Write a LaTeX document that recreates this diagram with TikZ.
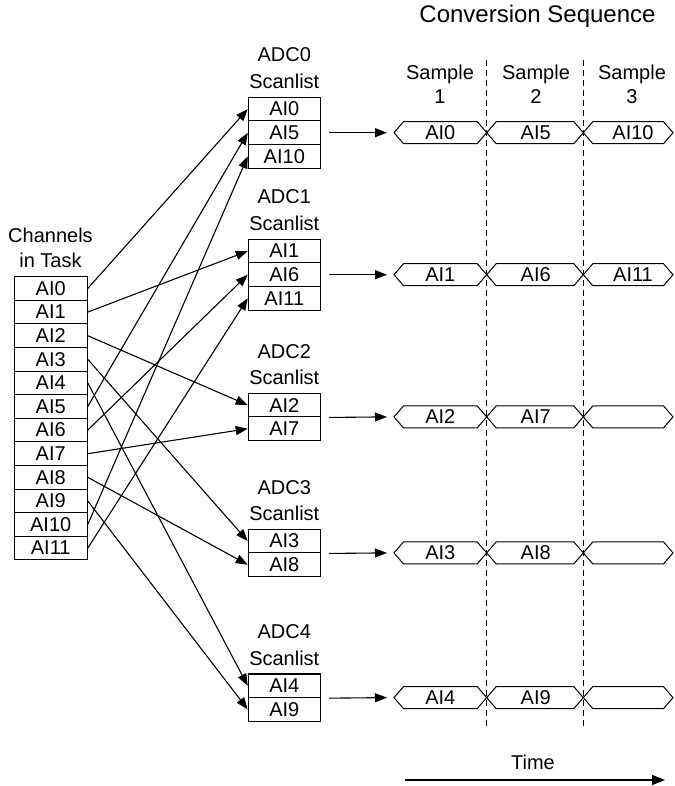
\documentclass[tikz,border=0pt]{standalone}
\usepackage{fontspec}
\setmainfont{Liberation Sans}
\usetikzlibrary{arrows.meta}

% one slot of the conversion sequence: a flat hexagon with its label
% #1 name, #2 left point x, #3 right point x, #4 centre y, #5 label x, #6 label
\newcommand\seqcell[6]{%
  \draw[hexline] (#2,#4) -- ({#2+9.5},{#4-11}) -- ({#3-9.5},{#4-11})
    -- (#3,#4) -- ({#3-9.5},{#4+11}) -- ({#2+9.5},{#4+11}) -- cycle;
  \coordinate (#1w) at (#2,#4);
  \node[lbl] (#1) at (#5,#4) {#6};%
}

\begin{document}
\begin{tikzpicture}[x=1pt,y=-1pt,line width=1.1pt,
  lbl/.style={font=\fontsize{20}{23}\selectfont,inner sep=0pt},
  txt/.style={lbl,anchor=base},
  cell/.style={draw,lbl,minimum width=73pt,minimum height=23.6pt},
  adccell/.style={cell,minimum width=72pt},
  conn/.style={-{Triangle[length=12pt,width=9pt]}},
  hexline/.style={line width=1pt},
  timeline/.style={line width=1pt,dash pattern=on 6pt off 4pt}]
\useasboundingbox (0,0) rectangle (674,786);

% channels in the task
\node[txt] (chan1) at (50.5,242) {Channels};
\node[txt] (chan2) at (50.5,267) {in Task};
\foreach \i in {0,...,11}
  \node[cell] (c\i) at (50.7,{276.7+23.6*(\i+0.5)}) {AI\i};

% scanlists of the five converters
\foreach \k/\top in {0/97.3,1/239.3,2/393.3,3/529.3,4/674}{
  \node[txt] (adc\k) at (284.3,{\top-35.3}) {ADC\k};
  \node[txt] (scan\k) at (284.3,{\top-8.8}) {Scanlist};
}
\node[adccell] (s0)  at (284.3,109.1) {AI0};
\node[adccell] (s5)  at (284.3,132.7) {AI5};
\node[adccell] (s10) at (284.3,156.3) {AI10};
\node[adccell] (s1)  at (284.3,251.1) {AI1};
\node[adccell] (s6)  at (284.3,274.7) {AI6};
\node[adccell] (s11) at (284.3,298.3) {AI11};
\node[adccell] (s2)  at (284.3,405.1) {AI2};
\node[adccell] (s7)  at (284.3,428.7) {AI7};
\node[adccell] (s3)  at (284.3,541.1) {AI3};
\node[adccell] (s8)  at (284.3,564.7) {AI8};
\node[adccell] (s4)  at (284.3,685.8) {AI4};
\node[adccell] (s9)  at (284.3,709.4) {AI9};

% each channel goes to the scanlist entry of the same name
\foreach \i in {0,...,11}
  \draw[conn] (c\i.east) -- (s\i.west);

% sample boundaries
\coordinate (b1t) at (486.7,60);  \coordinate (b1b) at (486.7,727);
\coordinate (b2t) at (583.3,60);  \coordinate (b2b) at (583.3,727);
\draw[timeline] (b1t) -- (b1b);
\draw[timeline] (b2t) -- (b2b);

% column heads
\node[lbl,font=\fontsize{24}{27}\selectfont,anchor=base] (title) at (537.5,23) {Conversion Sequence};
\foreach \n/\x in {1/440,2/536,3/632}{
  \node[txt] (samp\n) at (\x,80) {Sample};
  \node[txt] (num\n) at (\x,104) {\n};
}

% conversion sequences
\seqcell{h0a}{394}{486.7}{132.7}{440.3}{AI0}
\seqcell{h0b}{486.7}{583.3}{132.7}{535.7}{AI5}
\seqcell{h0c}{583.3}{673}{132.7}{633}{AI10}
\seqcell{h1a}{394}{486.7}{274.7}{440.3}{AI1}
\seqcell{h1b}{486.7}{583.3}{274.7}{535.7}{AI6}
\seqcell{h1c}{583.3}{673}{274.7}{633}{AI11}
\seqcell{h2a}{394}{486.7}{416.9}{440.3}{AI2}
\seqcell{h2b}{486.7}{583.3}{416.9}{535.7}{AI7}
\seqcell{h2c}{583.3}{673}{416.9}{633}{}
\seqcell{h3a}{394}{486.7}{552.9}{440.3}{AI3}
\seqcell{h3b}{486.7}{583.3}{552.9}{535.7}{AI8}
\seqcell{h3c}{583.3}{673}{552.9}{633}{}
\seqcell{h4a}{394}{486.7}{697.6}{440.3}{AI4}
\seqcell{h4b}{486.7}{583.3}{697.6}{535.7}{AI9}
\seqcell{h4c}{583.3}{673}{697.6}{633}{}

\draw[conn] ([xshift=8pt]s5.east) -- ([xshift=-7pt]h0aw);
\draw[conn] ([xshift=8pt]s6.east) -- ([xshift=-7pt]h1aw);
\draw[conn] ([xshift=8pt]s2.south east) -- ([xshift=-7pt]h2aw);
\draw[conn] ([xshift=8pt]s3.south east) -- ([xshift=-7pt]h3aw);
\draw[conn] ([xshift=8pt]s4.south east) -- ([xshift=-7pt]h4aw);

% time axis
\node[txt] (time) at (533,769) {Time};
\coordinate (t0) at (405,780);
\coordinate (t1) at (665,780);
\draw[-{Triangle[length=13pt,width=10pt]}] (t0) -- (t1);
\end{tikzpicture}
\end{document}
